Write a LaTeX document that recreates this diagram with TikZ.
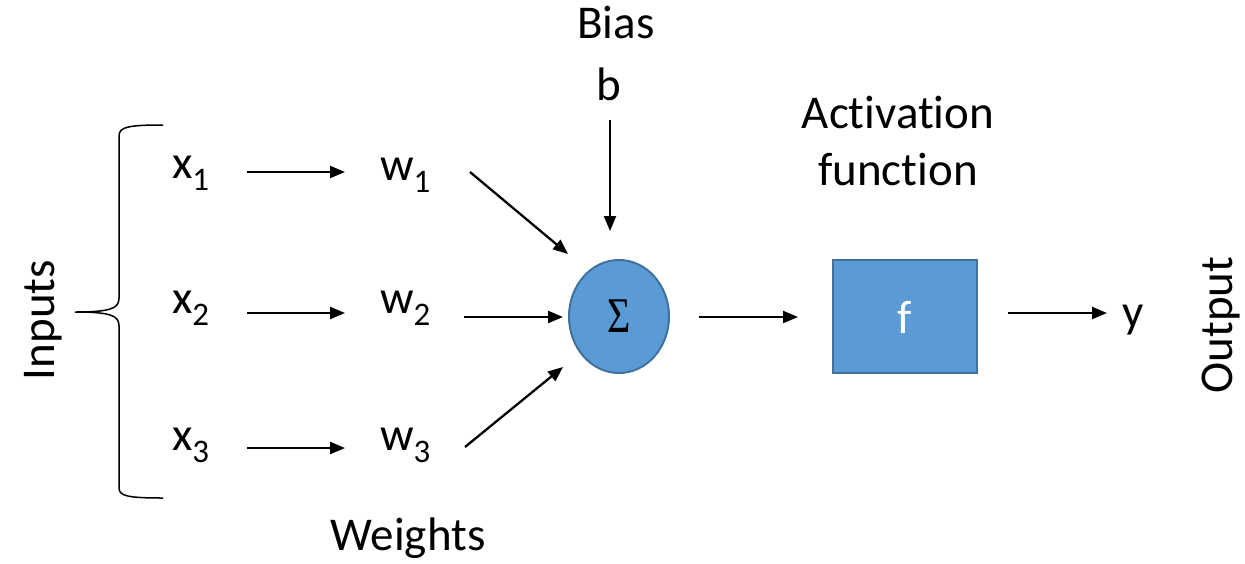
\documentclass[tikz,border=0pt]{standalone}
\usepackage{fontspec}
\usepackage{graphicx}
\setmainfont{Carlito}[Ligatures=NoCommon]
\newfontfamily\sigmafont{Liberation Serif}
\usetikzlibrary{arrows.meta,shapes.geometric}
\definecolor{boxfill}{HTML}{5B9BD5}
\definecolor{boxline}{HTML}{41719C}
\tikzset{
  lbl/.style={inner sep=0pt, outer sep=0pt, font=\fontsize{47}{48}\selectfont},
  arr/.style={line width=2.3pt, -{Triangle[length=15pt,width=12pt]}},
  unit/.style={fill=boxfill, draw=boxline, line width=2pt}
}
\begin{document}
\begin{tikzpicture}[x=1pt,y=-1pt]
\useasboundingbox (0,0) rectangle (1245,563);
% brace
\draw[line width=1.5pt] (163,125) .. controls (128,125) and (119,127) .. (119,136) -- (119,298)
  .. controls (119,308) and (112,312) .. (75,312)
  .. controls (112,312) and (119,316) .. (119,326) -- (119,488)
  .. controls (119,496) and (128,498) .. (163,498);
\node[lbl, rotate=90, anchor=base] (inputs) at (54,320) {Inputs};
% inputs
\node[lbl, anchor=base west] (x1) at (172,178) {x\textsubscript{1}};
\node[lbl, anchor=base west] (x2) at (172,313) {x\textsubscript{2}};
\node[lbl, anchor=base west] (x3) at (172,450) {x\textsubscript{3}};
\node[lbl, anchor=base west] (w1) at (380,180) {w\textsubscript{1}};
\node[lbl, anchor=base west] (w2) at (380,313) {w\textsubscript{2}};
\node[lbl, anchor=base west] (w3) at (380,450) {w\textsubscript{3}};
\node[lbl, anchor=base] (weights) at (408,550) {Weights};
% bias
\node[lbl, anchor=base] (bias) at (616,38) {Bias};
\node[lbl, anchor=base] (b) at (609,100) {b};
% sum
\node[unit, ellipse, minimum width=100pt, minimum height=113pt, inner sep=0pt] (sum) at (619,316.5) {\fontsize{50}{50}\sigmafont\scalebox{0.8}[1]{Σ}};
% activation
\node[unit, rectangle, minimum width=144pt, minimum height=113pt, inner sep=0pt] (f) at (905,316.5) {};
\node[lbl, text=white, anchor=base] (ftext) at (905,333) {f};
\node[lbl, anchor=base] (act1) at (898,128) {Activation};
\node[lbl, anchor=base] (act2) at (898,185) {function};
% output
\node[lbl, anchor=base west] (y) at (1122,327) {y};
\node[lbl, rotate=90, anchor=base] (output) at (1232,325) {Output};
% connector ends
\coordinate (x1r) at (247,172); \coordinate (w1l) at (345,172);
\coordinate (x2r) at (247,313); \coordinate (w2l) at (345,313);
\coordinate (x3r) at (247,448); \coordinate (w3l) at (345,448);
\coordinate (w1r) at (470,172); \coordinate (s1) at (568,254);
\coordinate (w2r) at (464,317); \coordinate (s2) at (563,317);
\coordinate (w3r) at (465,447); \coordinate (s3) at (563,367);
\coordinate (bb) at (610,120); \coordinate (sb) at (610,231);
\coordinate (sr) at (699,317); \coordinate (fl) at (798,317);
\coordinate (fr) at (1008,313); \coordinate (yl) at (1107,313);
\draw[arr] (x1r) -- (w1l);
\draw[arr] (x2r) -- (w2l);
\draw[arr] (x3r) -- (w3l);
\draw[arr] (w1r) -- (s1);
\draw[arr] (w2r) -- (s2);
\draw[arr] (w3r) -- (s3);
\draw[arr] (bb) -- (sb);
\draw[arr] (sr) -- (fl);
\draw[arr] (fr) -- (yl);
\end{tikzpicture}
\end{document}
